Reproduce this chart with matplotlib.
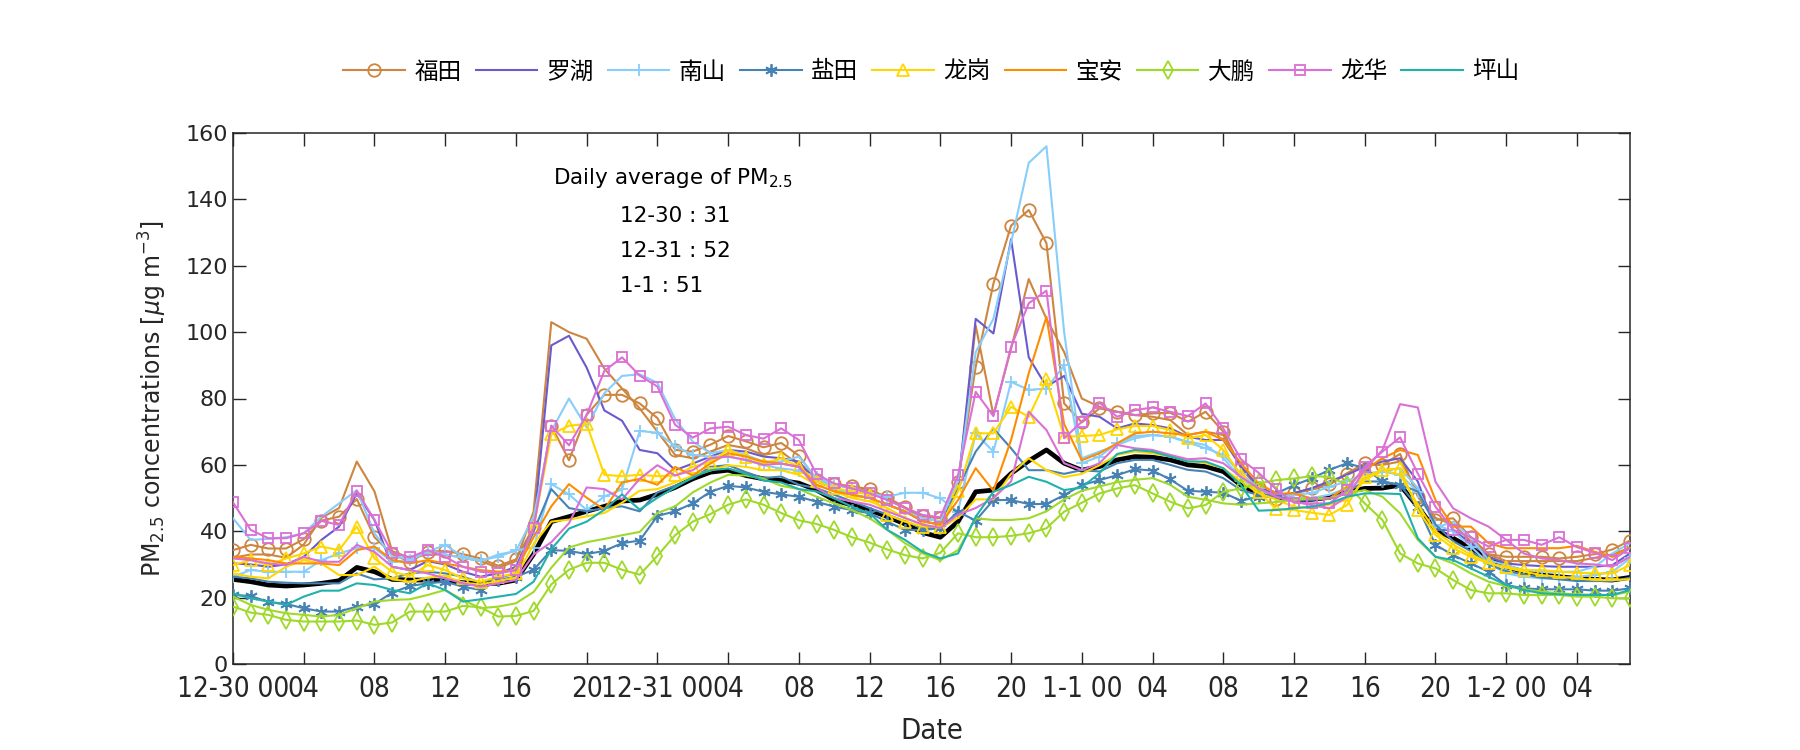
import matplotlib
matplotlib.use("Agg")
import matplotlib.pyplot as plt
from matplotlib import font_manager as fm
import numpy as np

# ---------------- data ----------------
hours = list(range(80))  # hourly, 12-30 00:00 ... 1-2 07:00

futian = [34.3, 35.9, 34.8, 34.8, 37.6, 43.2, 44.4, 49.7, 38.2, 33.1, 30.8, 33.8, 34.1, 33.1, 31.8, 29.6, 31.5,
          41.3, 71.8, 61.4, 75.1, 81.1, 81.1, 78.5, 74.1, 64.5, 64.0, 66.1, 68.7, 67.1, 65.3, 66.6, 62.8,
          55.4, 54.2, 53.6, 52.6, 50.2, 47.2, 44.6, 43.9, 54.9,
          89.6, 114.6, 132.1, 136.8, 126.8, 78.5, 72.8,
          77.0, 76.0, 75.0, 75.5, 75.7, 73.0, 76.0, 70.0, 59.0, 52.9, 49.6, 51.4, 52.9, 54.2, 57.4, 60.5, 60.0,
          63.3, 50.4, 43.4, 43.9, 38.2, 33.1, 32.3, 32.3, 32.3, 31.8, 32.3, 33.1, 34.5, 37.2]
futian_b = [32, 33, 33, 32, 36, 44, 47, 61, 52, 34, 32, 33, 33, 32, 31, 29, 31,
            46, 103, 100, 98, 89, 83, 77, 70, 63, 62, 64, 66, 65, 63, 64, 60,
            56, 54, 53, 52, 50, 47, 44, 43, 53,
            102, 75, 95, 116, 104, 94, 80,
            77.5, 76, 75, 74.5, 73.5, 69, 70, 69, 59.5, 53.5, 50.5, 51.5, 52.5, 54, 57.5, 60, 60,
            61, 52, 44, 42, 37, 33, 31, 31, 31, 31, 31, 32, 33, 35]
luohu = [30.3, 30, 29.3, 30, 32.3, 37.4, 41.4, 51.4, 43.4, 29.3, 28.3, 31, 30, 27.8, 26.3, 27.3, 29.3,
         41, 96, 98.9, 89.3, 76.4, 73.3, 64.5, 63.5, 58.4, 60.4, 62.5, 64.5, 64, 62.5, 62, 61,
         55, 53, 51, 50, 48, 46, 43, 42, 53.4,
         104, 99.6, 128, 92.4, 83.6, 86.8, 75.4,
         74.5, 71, 72.5, 72, 71, 68.5, 67.5, 67.5, 59.5, 53.4, 50.9, 51.5, 53, 55, 57, 59.5, 61,
         62, 55, 40.4, 40.4, 36.4, 32.3, 30.3, 29.8, 29.5, 29.3, 29.3, 29.3, 29.8, 33.3]
nanshan = [26.3, 28.3, 27.8, 27.8, 27.8, 31.3, 33.3, 34.9, 34.9, 30.8, 31.3, 33.8, 35.9, 32.3, 31.3, 32.3, 34.3,
           35, 54.2, 51.1, 46.4, 50.5, 52.6, 70.2, 69.7, 65.6, 63, 62.5, 62.5, 61.5, 59.9, 58.9, 58.3,
           56.4, 54, 53, 51.4, 50.4, 51.6, 51.6, 49.9, 45.9,
           69.5, 64, 85, 82.6, 83, 90, 60.5,
           62.5, 66.5, 68.7, 69, 68.5, 66.7, 65, 63, 57.4, 52.9, 50.4, 51, 51.5, 53.4, 55, 57.4, 58,
           57, 51.9, 42, 40, 35.4, 30.3, 27.3, 26.3, 25.8, 25.8, 26.3, 26.8, 27.8, 31.8]
nanshan_b = [43.9, 37.4, 37.7, 38.2, 39.4, 44.4, 48.4, 52.4, 39.4, 32.3, 31.8, 34.3, 33, 32, 31, 33, 34,
             44.4, 70.2, 80, 71.2, 81.6, 86.8, 87.3, 84.7, 73.8, 67, 63.5, 64.5, 63, 61, 61, 62.5,
             56, 53, 51, 50, 48, 46, 44, 43, 55,
             94, 104, 127, 151, 156, 100, 62,
             64, 66, 68, 69, 68.5, 67, 66, 62, 56, 52, 51, 50, 50, 51, 53, 56, 58,
             59, 53, 41, 42.9, 38, 31.3, 29.8, 28.3, 27.8, 27.8, 27.8, 29.3, 33.3, 36.4]
yantian = [20.8, 20.5, 18.7, 18.1, 16.8, 15.8, 15.8, 17.3, 18.1, 21.5, 23.5, 24.3, 24.8, 23.3, 22.3, 25.3, 26.3,
           28.4, 34.3, 34.1, 33.1, 34.1, 36.4, 37.2, 44.6, 46, 48.4, 51.9, 53.7, 53.2, 51.9, 51.1, 50.4,
           48.9, 47.4, 46.4, 45.4, 42.9, 40.4, 40.4, 40.9, 45.9,
           43.2, 49.4, 49.4, 48.2, 48.2, 50.9, 53.9,
           55.4, 56.9, 58.7, 58.3, 55.6, 52.2, 51.9, 51.6, 49.2, 50.4, 51.4, 53.9, 55.9, 58.5, 60.5, 59, 55,
           53.9, 47.4, 35.9, 32.8, 30.3, 27.8, 23.8, 22.8, 22.5, 22.5, 22.5, 22.1, 22.1, 22.8]
yantian_b = [26.3, 25.8, 24.8, 24.5, 24.3, 24.3, 24.3, 27.3, 25.5, 25.8, 27.3, 27.8, 27.3, 26.3, 24.5, 26, 27.3,
             40, 52.7, 47, 46, 47, 47.5, 46, 51.7, 53.7, 56, 59.4, 59.9, 57.8, 56, 56.5, 54,
             53, 51, 49, 47, 45, 43, 41, 41, 53,
             64, 71, 65, 58.4, 58.4, 57.3, 58.4,
             58, 60.5, 61.5, 61.5, 60, 58.5, 58, 56, 52.4, 50.9, 50.4, 49.4, 49.4, 49.9, 51.9, 55, 55,
             54, 52, 42, 37, 34, 30, 28, 27, 26, 25.5, 25, 25, 25, 26]
longgang = [29.8, 31.3, 29.8, 31.8, 33.3, 35.4, 34.3, 41.4, 31.8, 27.8, 26.5, 29.8, 28.3, 25.8, 24.8, 26.3, 27.3,
            41.3, 69.2, 71.8, 72.3, 57, 56.6, 57, 56.6, 56.8, 59.4, 60.9, 64.5, 62.5, 60.4, 62, 59.4,
            55, 53, 52, 51, 45, 42.9, 41.4, 41.4, 52,
            69.5, 69.5, 77.5, 74.5, 85.8, 68.5, 68.7,
            69, 70.7, 71.7, 71.7, 70.5, 68, 69, 64.5, 56.9, 51.9, 46.6, 46.4, 45.6, 44.9, 47.9, 56.4, 58.5,
            59, 46.4, 38.9, 34.9, 32.3, 30.3, 29.3, 28.3, 28.3, 27.8, 27.5, 27.3, 27.3, 29.8]
longgang_b = [27.3, 26.3, 25.8, 29.3, 31.3, 30.3, 26.8, 26.8, 29.3, 25.5, 24.8, 26, 26.5, 24.5, 24, 25, 26,
              36.2, 42.9, 43.5, 44.5, 45.5, 48.6, 52.2, 52.7, 54.7, 56.7, 58.3, 59.9, 59.4, 58.4, 58.4, 57,
              54, 52, 50, 49, 47, 44, 42, 41, 44,
              49.6, 49.6, 57.3, 62, 58.4, 56.3, 57.3,
              59.9, 63, 64, 63.5, 62.5, 61.5, 60.5, 59, 55, 51.5, 49.5, 47.4, 47, 48, 49.5, 55.4, 58.5,
              57, 48, 40, 36, 33, 30.5, 29, 27.8, 26.8, 26.3, 25.8, 25.3, 25.3, 25.5]
baoan = [32.3, 31.8, 31.3, 30.3, 30.3, 30.3, 29.8, 34.3, 35.4, 31.3, 30.3, 31.3, 30.3, 29.3, 28.3, 27.8, 28.3,
         38.2, 47.5, 54.2, 50.1, 46.5, 54.7, 55.8, 54, 59.4, 56.8, 60.4, 63.5, 62.5, 61, 60.4, 59.4,
         54, 52, 51, 50, 48, 46, 43, 42, 49.4,
         59, 52.2, 67.5, 87.6, 104.6, 72.3, 61.4,
         63.5, 66.5, 69.5, 70, 69.5, 69, 70, 67.5, 60.5, 54.4, 51.4, 51.4, 49.9, 49.9, 53.4, 58.5, 62,
         64.5, 63, 49.4, 41.4, 41.4, 36.4, 34.9, 34.9, 34.9, 34.9, 35.6, 33.8, 32.5, 34.9]
dapeng = [17.3, 15.5, 14.8, 13.3, 12.8, 12.8, 12.8, 13.1, 11.8, 12.5, 15.8, 15.8, 15.8, 17.5, 17.1, 14.3, 14.5,
          16, 24, 28.4, 30.5, 30.5, 28.4, 26.9, 32.6, 38.8, 42.9, 45.2, 48, 49.6, 48, 45.5, 43.3,
          42.2, 40.4, 38.2, 36.6, 34.5, 32.8, 31.8, 33.5, 39.4,
          38.2, 38.2, 38.6, 39.4, 40.9, 45.9, 48.6,
          51.4, 52.9, 53.9, 51.4, 48.9, 46.9, 47.9, 51.9, 52.9, 54.4, 55.4, 55.9, 56.6, 56.4, 54, 48.4, 43.4,
          33.3, 30.3, 28.8, 25.3, 22.3, 21.3, 21.3, 20.8, 20.8, 20.8, 20.3, 20.3, 19.8, 19.8]
dapeng_b = [20.3, 17.8, 16.3, 15.3, 14.8, 14.3, 14.8, 16.8, 18.8, 19.3, 19.5, 20.8, 22.3, 19.3, 16.8, 17.3, 18.3,
            21.7, 29, 35.1, 36.7, 37.7, 38.8, 39.8, 45.5, 47.5, 51.7, 54.7, 57, 56.8, 55.8, 53.7, 52.7,
            50.4, 48.4, 46.4, 43.9, 40.4, 36.4, 33.3, 31.3, 34.3,
            43.9, 43.4, 43.4, 43.9, 46, 49.6, 52.2,
            53.5, 54.8, 55.5, 56, 54, 50.4, 49.5, 48.4, 48, 48.4, 48.8, 49.4, 49.9, 49.9, 51.4, 52.4, 50.4,
            45.4, 37.4, 32.3, 30.3, 27.3, 24.8, 23.5, 22.5, 21.8, 21.3, 21, 20.8, 20.8, 21.8]
longhua = [48.7, 40.4, 37.9, 37.9, 39.4, 43.1, 41.9, 52.2, 43.4, 33.5, 32.1, 34.3, 32.3, 29.3, 27.8, 27.3, 28.3,
           41, 71.8, 65.9, 75.1, 88.3, 92.4, 86.9, 83.6, 72.1, 68.2, 71, 71.5, 69, 67.9, 71, 67.5,
           57.2, 54.4, 52.9, 51.4, 49.4, 47, 44.9, 44.2, 56.9,
           82, 74.7, 95.6, 108.7, 112.5, 68, 73,
           78.7, 74.5, 76.5, 77.3, 76, 74.7, 78.5, 71, 61.7, 57.6, 52.6, 48.6, 48.4, 48.4, 52.4, 59.5, 64,
           68.3, 57.4, 47.4, 40.4, 38.2, 35.4, 37.4, 37.4, 35.9, 38.2, 35.2, 33.5, 31.3, 34.9]
longhua_b = [31.8, 31.3, 30.3, 29.8, 32.3, 30.8, 30.8, 35.9, 33.8, 29.3, 28.3, 27.3, 25.8, 24.3, 23.3, 24.3, 25.3,
             33, 36.7, 42.4, 53.2, 52.7, 49.6, 55.8, 59.9, 56.8, 58.4, 62, 62.5, 61.5, 60, 60.4, 59.4,
             53, 50, 49, 48, 46, 44, 42, 41, 45,
             47, 50, 55, 76, 70.5, 60.5, 58.4,
             60.5, 66, 65, 64.5, 63, 61.7, 62, 60.5, 56.4, 52.9, 50.4, 48.9, 47.9, 46.9, 50.4, 58.5, 64.5,
             78.3, 77.3, 54.9, 46.9, 43.9, 41.4, 37.4, 33.3, 31.8, 31.3, 30.3, 30, 29.3, 32.3]
pingshan = [21.3, 19.8, 18.8, 17.8, 20.3, 22.1, 22.1, 24.3, 23.8, 22.3, 21.3, 24.3, 22.3, 18.8, 19.5, 20.3, 21.1,
            24.8, 34.6, 40.8, 42.9, 46.5, 51.1, 46.5, 50.1, 53.2, 56.3, 58.4, 58.9, 57.3, 55.3, 54.7, 52.7,
            52, 49.9, 47.4, 45.4, 40.4, 37.4, 33.8, 31.8, 33.3,
            44.4, 51.9, 53.9, 56.4, 54.9, 52.4, 53.2,
            57.5, 63.3, 64.5, 64, 62.5, 61, 61, 59, 53.9, 46.2, 46.4, 46.9, 47.4, 48.4, 50.4, 51.4, 51.4,
            51.2, 37.9, 32.3, 31.3, 28.8, 26.3, 23.8, 22.3, 21.3, 21, 20.8, 20.8, 20.8, 22.3]
average = [25.5, 24.8, 23.8, 23.5, 23.8, 24.3, 25.1, 29.1, 27.8, 25.5, 25.3, 25.3, 25, 24.5, 24.3, 24.3, 25.3,
           33.1, 42.9, 44.4, 46, 47.5, 49.1, 49.4, 51.1, 53.2, 55.8, 57.8, 58.4, 56.8, 55.8, 55.3, 54.5,
           52.4, 49.4, 47.9, 46.4, 44.4, 42.2, 39.6, 38.2, 42.9,
           51.9, 52.4, 57.4, 61.2, 64.5, 60.5, 58.4,
           59.5, 61.5, 62.5, 62.3, 61.5, 60, 59.5, 58, 53.9, 51.4, 50.4, 49.6, 49.6, 50.2, 51.9, 52.9, 53,
           53.9, 47.4, 40.4, 37.9, 34.9, 31.8, 29.3, 27.8, 26.8, 26.3, 25.8, 25.5, 25.3, 26.1]

district_names = ['福田', '罗湖', '南山', '盐田', '龙岗', '宝安', '大鹏', '龙华', '坪山']
tick_hours = list(range(0, 80, 4))
tick_labels = ['12-30 00', '04', '08', '12', '16', '20',
               '12-31 00', '04', '08', '12', '16', '20',
               '1-1 00', '04', '08', '12', '16', '20',
               '1-2 00', '04']
daily_avg_lines = ['12-30 : 31', '12-31 : 52', '1-1 : 51']

# ---------------- fonts ----------------
available = {f.name for f in fm.fontManager.ttflist}
narrow_family = 'Liberation Sans Narrow' if 'Liberation Sans Narrow' in available else 'DejaVu Sans'
narrow_stretch = 'normal' if narrow_family == 'Liberation Sans Narrow' else 'condensed'

plt.rcParams['font.family'] = ['DejaVu Sans', 'Noto Sans CJK SC']
plt.rcParams['mathtext.default'] = 'regular'

TXT = '#262626'

fig = plt.figure(figsize=(18, 7.5), dpi=100)
ax = fig.add_axes([233 / 1800, 1 - 664 / 750, (1630 - 233) / 1800, (664 - 133) / 750])

c_futian = '#CD853F'
c_luohu = '#6A5ACD'
c_nanshan = '#87CEFA'
c_yantian = '#4682B4'
c_longgang = '#FFD700'
c_baoan = '#FF8C00'
c_dapeng = '#9FD92A'
c_longhua = '#DA70D6'
c_pingshan = '#20B2AA'

lw = 1.5
mew = 1.3
asterisk = (6, 2, 0)

ax.plot(hours, average, color='black', lw=3.4, zorder=2)

series = [
    (futian, c_futian, 'o', 9, district_names[0]),
    (futian_b, c_futian, None, 0, None),
    (luohu, c_luohu, None, 0, district_names[1]),
    (nanshan, c_nanshan, '+', 9, district_names[2]),
    (nanshan_b, c_nanshan, None, 0, None),
    (yantian, c_yantian, asterisk, 9, district_names[3]),
    (yantian_b, c_yantian, None, 0, None),
    (longgang, c_longgang, '^', 9, district_names[4]),
    (longgang_b, c_longgang, None, 0, None),
    (baoan, c_baoan, None, 0, district_names[5]),
    (dapeng, c_dapeng, 'd', 9, district_names[6]),
    (dapeng_b, c_dapeng, None, 0, None),
    (longhua, c_longhua, 's', 7, district_names[7]),
    (longhua_b, c_longhua, None, 0, None),
    (pingshan, c_pingshan, None, 0, district_names[8]),
]
handles = []
for vals, col, mk, ms, lab in series:
    h, = ax.plot(hours, vals, color=col, lw=lw, marker=mk, markersize=ms,
                 markerfacecolor='none', markeredgecolor=col, markeredgewidth=mew, zorder=3)
    if lab is not None:
        handles.append((h, lab))

ax.set_xlim(0, 79)
ax.set_ylim(0, 160)
ax.set_yticks(range(0, 161, 20))
ax.set_xticks(tick_hours)
ax.set_xticklabels(tick_labels, fontfamily=narrow_family, fontstretch=narrow_stretch, fontsize=20, color=TXT)
ax.tick_params(axis='y', labelsize=16, labelcolor=TXT)
ax.tick_params(direction='in', top=True, right=True, length=9, width=1, color=TXT)
ax.tick_params(axis='x', pad=8)
for s in ax.spines.values():
    s.set_color(TXT)
    s.set_linewidth(1.1)

ax.set_xlabel('Date', fontfamily=narrow_family, fontstretch=narrow_stretch, fontsize=21, color=TXT, labelpad=10)
ax.set_ylabel(r'PM$_{2.5}$ concentrations [$\mathit{\mu}$g m$^{-3}$]', fontsize=17, color=TXT, labelpad=12)

ax.text(18.1, 146.4, r'Daily average of PM$_{2.5}$', fontsize=15.5, color='black', va='center', ha='left')
for i, line in enumerate(daily_avg_lines):
    ax.text(21.9, 135 - 10.6 * i, line, fontsize=15.5, color='black', va='center', ha='left')

leg = fig.legend([h for h, _ in handles], [l for _, l in handles], loc='center',
                 bbox_to_anchor=(931.5 / 1800, 1 - 72 / 750), ncol=9, frameon=False,
                 prop={'family': ['Noto Sans CJK SC', 'DejaVu Sans'], 'size': 17},
                 handlelength=2.6, handletextpad=0.4, columnspacing=0.6, numpoints=1)

fig.savefig('out.png', dpi=100, facecolor='white')
